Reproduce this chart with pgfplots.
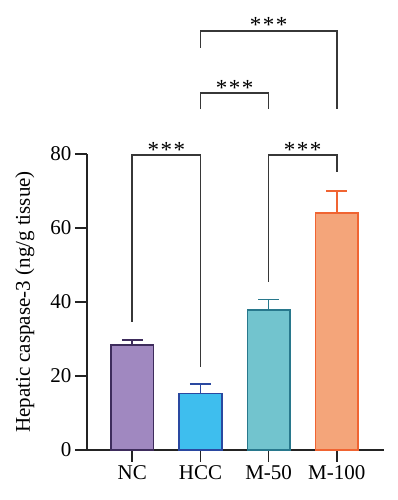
\documentclass[border=0pt]{standalone}
\usepackage{fontspec}
\setmainfont{Liberation Serif}
\usepackage{pgfplots}
\pgfplotsset{compat=1.18}
\definecolor{ncfill}{RGB}{160,136,192}
\definecolor{ncedge}{RGB}{62,44,92}
\definecolor{hccfill}{RGB}{62,190,238}
\definecolor{hccedge}{RGB}{42,72,160}
\definecolor{mfifill}{RGB}{114,196,206}
\definecolor{mfiedge}{RGB}{40,120,140}
\definecolor{mhufill}{RGB}{244,165,122}
\definecolor{mhuedge}{RGB}{240,100,50}
\definecolor{axgray}{RGB}{35,35,35}
\definecolor{brgray}{RGB}{55,55,55}
\newcommand{\fs}{\fontsize{21}{25}\selectfont}
\begin{document}
\begin{tikzpicture}
\path[use as bounding box] (0,0) rectangle (398pt,500pt);
\begin{axis}[
  at={(87pt,50pt)}, anchor=south west,
  width=297pt, height=296pt, scale only axis,
  xmin=-0.665, xmax=3.694, ymin=0, ymax=80,
  clip=false,
  axis lines=left,
  axis line style={-, line width=1.8pt, axgray},
  xtick={0,1,2,3}, xticklabels={NC,HCC,M-50,M-100},
  ytick={0,20,40,60,80},
  tick align=outside, major tick length=12pt,
  major tick style={line width=1.8pt, axgray},
  /pgf/number format/assume math mode=true,
  tick label style={font=\fs, black},
  ylabel={Hepatic caspase-3 (ng/g tissue)},
  ylabel style={font=\fs, at={(axis description cs:-0.209,0.5)}, anchor=center},
]
\addplot[ybar, bar width=0.627, bar shift=0, fill=ncfill, draw=ncedge, line width=1.4pt,
  error bars/.cd, y dir=plus, y explicit,
  error bar style={line width=1.8pt, ncedge},
  error mark options={line width=1.8pt, ncedge, mark size=10.5pt, rotate=90}]
  coordinates {(0,28.4) +- (0,1.3)};
\addplot[ybar, bar width=0.627, bar shift=0, fill=hccfill, draw=hccedge, line width=1.4pt,
  error bars/.cd, y dir=plus, y explicit,
  error bar style={line width=1.8pt, hccedge},
  error mark options={line width=1.8pt, hccedge, mark size=10.5pt, rotate=90}]
  coordinates {(1,15.3) +- (0,2.5)};
\addplot[ybar, bar width=0.627, bar shift=0, fill=mfifill, draw=mfiedge, line width=1.4pt,
  error bars/.cd, y dir=plus, y explicit,
  error bar style={line width=1.8pt, mfiedge},
  error mark options={line width=1.8pt, mfiedge, mark size=10.5pt, rotate=90}]
  coordinates {(2,37.8) +- (0,2.9)};
\addplot[ybar, bar width=0.627, bar shift=0, fill=mhufill, draw=mhuedge, line width=1.4pt,
  error bars/.cd, y dir=plus, y explicit,
  error bar style={line width=1.8pt, mhuedge},
  error mark options={line width=1.8pt, mhuedge, mark size=10.5pt, rotate=90}]
  coordinates {(3,64.0) +- (0,6.0)};
% significance brackets
\addplot[brgray, line width=1.8pt, sharp plot] coordinates {(0,34.7) (0,79.7) (1,79.7) (1,22.5)};
\addplot[brgray, line width=1.8pt, sharp plot] coordinates {(2,45.5) (2,79.7) (3,79.7) (3,75.1)};
\addplot[brgray, line width=1.8pt, sharp plot] coordinates {(1,92.1) (1,96.4) (2,96.4) (2,92.1)};
\addplot[brgray, line width=1.8pt, sharp plot] coordinates {(1,108.7) (1,113.3) (3,113.3) (3,92.1)};
\node[anchor=base, font=\fontsize{23}{27}\selectfont, inner sep=0pt, yshift=-2pt] at (axis cs:0.5,79.7) {*\kern1.5pt*\kern1.5pt*};
\node[anchor=base, font=\fontsize{23}{27}\selectfont, inner sep=0pt, yshift=-2pt] at (axis cs:2.5,79.7) {*\kern1.5pt*\kern1.5pt*};
\node[anchor=base, font=\fontsize{23}{27}\selectfont, inner sep=0pt, yshift=-2pt] at (axis cs:1.5,96.4) {*\kern1.5pt*\kern1.5pt*};
\node[anchor=base, font=\fontsize{23}{27}\selectfont, inner sep=0pt, yshift=-2pt] at (axis cs:2,113.3) {*\kern1.5pt*\kern1.5pt*};
\end{axis}
\end{tikzpicture}
\end{document}
